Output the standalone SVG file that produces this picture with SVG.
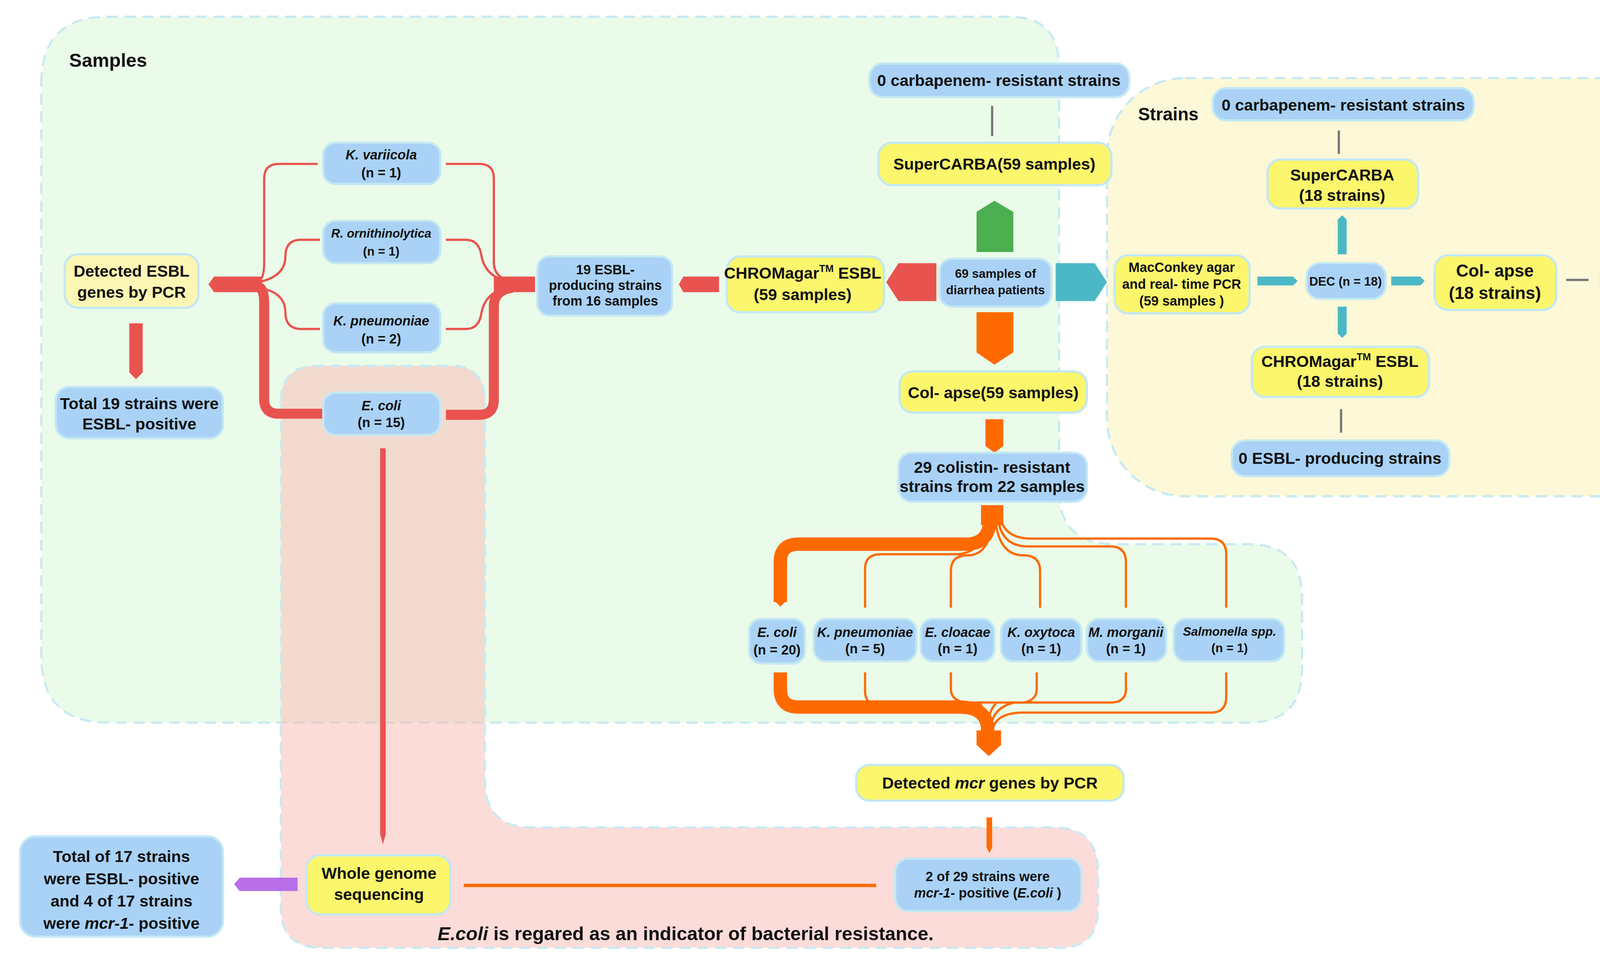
<svg xmlns="http://www.w3.org/2000/svg" width="4452" height="2444" viewBox="0 0 4452 2444">
<style>
text{font-family:"Liberation Sans Narrow","Liberation Sans",Arial,sans-serif;font-weight:bold;fill:#111;text-anchor:middle}
.b{fill:#a9d2f6;stroke:#c3e8f3;stroke-width:2}
.y{fill:#fbf66c;stroke:#c3e8f3;stroke-width:2}
.ly{fill:#fcf6b4;stroke:#c3e8f3;stroke-width:2}
.t14{font-size:14.5px}.t12{font-size:12px}.t11{font-size:11px}
.i{font-style:italic}
.red{fill:none;stroke:#e9534f}
.or{fill:none;stroke:#ff6a00}
.gr{stroke:#777;stroke-width:2}
.reg{stroke:#c8eaf2;stroke-width:2;stroke-dasharray:10 6}
</style>
<rect width="4452" height="2444" fill="#fff"/>
<g transform="scale(2.8538)">
<g id="regions">
<path class="reg" fill="#eafbe9" d="M37 75Q37 15 97 15L905 15Q950 15 950 60L950 440Q950 488 1000 488L1120 488Q1168 488 1168 536L1168 600Q1168 648 1120 648L97 648Q37 648 37 588Z"/>
<rect class="reg" fill="#fcf8d8" x="993" y="70" width="555" height="375" rx="70"/>
<path class="reg" fill="#f9b9b3" fill-opacity="0.5" d="M252 360Q252 328 285 328L405 328Q435 328 435 360L435 700Q435 742 477 742L945 742Q985 742 985 782L985 815Q985 850 950 850L290 850Q252 850 252 815Z"/>
<text x="97" y="60" style="font-size:17px">Samples</text>
<text x="1048" y="108" style="font-size:16px">Strains</text>
<text x="615" y="843" style="font-size:17px"><tspan class="i">E.coli</tspan> is regared as an indicator of bacterial resistance.</text>
</g>
<g id="connectors">
<line class="gr" x1="890" y1="95" x2="890" y2="122"/>
<line class="gr" x1="1201" y1="117" x2="1201" y2="138"/>
<line class="gr" x1="1203" y1="367" x2="1203" y2="388"/>
<line class="gr" x1="1405" y1="251" x2="1425" y2="251"/>
<polygon fill="#4caf50" points="876,190 892,180 909,190 909,226 876,226"/>
<polygon fill="#e9534f" points="795,253 806,236 840,236 840,270 806,270"/>
<polygon fill="#4cb8c6" points="947,236 982,236 993,253 982,270 947,270"/>
<polygon fill="#ff6a00" points="876,280 909,280 909,316 892,327 876,316"/>
<polygon fill="#ff6a00" points="884,376 900,376 900,400 892,406 884,400"/>
<polygon fill="#e9534f" points="609,255 613,248 645,248 645,262 613,262"/>
<polygon fill="#4cb8c6" points="1128,248 1160,248 1164,252 1160,256 1128,256"/>
<polygon fill="#4cb8c6" points="1248,248 1274,248 1278,252 1274,256 1248,256"/>
<polygon fill="#4cb8c6" points="1200,197 1204,193 1208,197 1208,228 1200,228"/>
<polygon fill="#4cb8c6" points="1200,275 1208,275 1208,299 1204,303 1200,299"/>
<polygon fill="#e9534f" points="116,290 128,290 128,334 122,340 116,334"/>
<polygon fill="#e9534f" points="341,402 346,402 346,748 343.5,757 341,748"/>
<polygon fill="#b86fe8" points="210,793 215,787 267,787 267,799 215,799"/>
<line x1="416" y1="794" x2="786" y2="794" stroke="#ff6a00" stroke-width="3"/>
<polygon fill="#ff6a00" points="885,733 890,733 890,760 887.5,765 885,760"/>
<!-- red tree -->
<polygon fill="#e9534f" points="187,255 192,248 235,248 235,262 192,262"/>
<path class="red" stroke-width="9" d="M230 257Q237 257 237 272L237 358Q237 371 250 371L290 371"/>
<path class="red" stroke-width="2" d="M232 252Q237 250 237 235L237 160Q237 147 250 147L285 147"/>
<path class="red" stroke-width="2" d="M232 253Q256 248 256 230Q256 215 270 215L287 215"/>
<path class="red" stroke-width="2" d="M232 258Q256 262 256 280Q256 295 270 295L287 295"/>
<path class="red" stroke-width="2" d="M400 147L430 147Q443 147 443 160L443 235Q443 250 460 252"/>
<path class="red" stroke-width="2" d="M400 215L418 215Q430 215 432 230Q436 250 460 253"/>
<path class="red" stroke-width="2" d="M400 295L418 295Q430 295 432 280Q436 260 460 257"/>
<path class="red" stroke-width="9" d="M400 372L430 372Q443 372 443 358L443 275Q443 260 460 258"/>
<rect fill="#e9534f" x="443" y="248" width="37" height="14"/>
<!-- orange tree top -->
<rect fill="#ff6a00" x="880" y="453" width="20" height="18"/>
<path class="or" stroke-width="12" d="M888 465Q888 488 866 488L716 488Q700 488 700 504L700 540"/>
<polygon fill="#ff6a00" points="694,538 706,538 700,544"/>
<path class="or" stroke-width="2" d="M886 466Q884 494 860 497L790 497Q776 497 776 510L776 545"/>
<path class="or" stroke-width="2" d="M890 466Q888 498 868 498Q853 498 853 512L853 545"/>
<path class="or" stroke-width="2" d="M893 466Q896 498 918 498Q933 498 933 512L933 545"/>
<path class="or" stroke-width="2" d="M895 464Q898 490 922 490L996 490Q1010 490 1010 504L1010 545"/>
<path class="or" stroke-width="2" d="M897 462Q900 483 925 483L1086 483Q1100 483 1100 497L1100 545"/>
<!-- orange tree bottom -->
<path class="or" stroke-width="12" d="M700 603L700 618Q700 634 716 634L860 634Q886 634 886 655L886 665"/>
<path class="or" stroke-width="2" d="M776 603L776 620Q776 634 795 634L865 634Q884 636 884 650"/>
<path class="or" stroke-width="2" d="M853 603L853 618Q853 628 866 630L918 630Q930 628 930 618L930 603"/>
<path class="or" stroke-width="2" d="M878 630Q884 636 886 648Q888 636 894 630"/>
<path class="or" stroke-width="2" d="M1010 603L1010 618Q1010 630 996 630L910 630Q892 634 889 650"/>
<path class="or" stroke-width="2" d="M1100 603L1100 625Q1100 639 1086 639L915 639Q895 640 891 652"/>
<polygon fill="#ff6a00" points="876,655 898,655 898,668 887,678 876,668"/>
</g>
<g id="n_samples_lbl"/>
<g id="n1"><rect class="ly" x="58" y="228" width="120" height="48" rx="12"/><text class="t14" x="118" y="248">Detected ESBL</text><text class="t14" x="118" y="267">genes by PCR</text></g>
<g id="n2"><rect class="b" x="50" y="347" width="150" height="46" rx="12"/><text class="t14" x="125" y="367">Total 19 strains were</text><text class="t14" x="125" y="385">ESBL- positive</text></g>
<g id="n3"><rect class="b" x="290" y="128" width="105" height="37" rx="11"/><text class="t12 i" x="342" y="143">K. variicola</text><text class="t12" x="342" y="159">(n = 1)</text></g>
<g id="n4"><rect class="b" x="290" y="198" width="105" height="38" rx="11"/><text class="t11 i" x="342" y="213">R. ornithinolytica</text><text class="t11" x="342" y="229">(n = 1)</text></g>
<g id="n5"><rect class="b" x="290" y="272" width="105" height="44" rx="11"/><text class="t12 i" x="342" y="292">K. pneumoniae</text><text class="t12" x="342" y="308">(n = 2)</text></g>
<g id="n6"><rect class="b" x="290" y="352" width="105" height="38" rx="11"/><text class="t12 i" x="342" y="368">E. coli</text><text class="t12" x="342" y="383">(n = 15)</text></g>
<g id="n7"><rect class="b" x="482" y="230" width="121" height="53" rx="11"/><text class="t12" x="543" y="246">19 ESBL-</text><text class="t12" x="543" y="260">producing strains</text><text class="t12" x="543" y="274">from 16 samples</text></g>
<g id="n8"><rect class="y" x="652" y="230" width="141" height="50" rx="12"/><text class="t14" x="720" y="250">CHROMagar<tspan font-size="9" dy="-6">TM</tspan><tspan dy="6"> ESBL</tspan></text><text class="t14" x="720" y="269">(59 samples)</text></g>
<g id="n9"><rect class="b" x="843" y="232" width="100" height="43" rx="11"/><text class="t11" x="893" y="249">69 samples of</text><text class="t11" x="893" y="264">diarrhea patients</text></g>
<g id="n10"><rect class="b" x="780" y="57" width="233" height="30" rx="12"/><text class="t14" x="896" y="77">0 carbapenem- resistant strains</text></g>
<g id="n11"><rect class="y" x="788" y="128" width="209" height="38" rx="12"/><text class="t14" x="892" y="152">SuperCARBA(59 samples)</text></g>
<g id="n12"><rect class="y" x="807" y="333" width="168" height="37" rx="12"/><text class="t14" x="891" y="357">Col- apse(59 samples)</text></g>
<g id="n13"><rect class="b" x="806" y="406" width="169" height="44" rx="12"/><text class="t14" x="890" y="424">29 colistin- resistant</text><text class="t14" x="890" y="441">strains from 22 samples</text></g>
<g id="n14"><rect class="b" x="672" y="555" width="50" height="40" rx="11"/><text class="t12 i" x="697" y="571">E. coli</text><text class="t12" x="697" y="587">(n = 20)</text></g>
<g id="n15"><rect class="b" x="730" y="555" width="92" height="38" rx="11"/><text class="t12 i" x="776" y="571">K. pneumoniae</text><text class="t12" x="776" y="586">(n = 5)</text></g>
<g id="n16"><rect class="b" x="826" y="555" width="66" height="38" rx="11"/><text class="t12 i" x="859" y="571">E. cloacae</text><text class="t12" x="859" y="586">(n = 1)</text></g>
<g id="n17"><rect class="b" x="898" y="555" width="72" height="38" rx="11"/><text class="t12 i" x="934" y="571">K. oxytoca</text><text class="t12" x="934" y="586">(n = 1)</text></g>
<g id="n18"><rect class="b" x="975" y="555" width="71" height="38" rx="11"/><text class="t12 i" x="1010" y="571">M. morganii</text><text class="t12" x="1010" y="586">(n = 1)</text></g>
<g id="n19"><rect class="b" x="1053" y="555" width="99" height="38" rx="11"/><text class="t11 i" x="1103" y="570">Salmonella spp.</text><text class="t11" x="1103" y="585">(n = 1)</text></g>
<g id="n20"><rect class="y" x="768" y="686" width="240" height="32" rx="12"/><text class="t14" x="888" y="707">Detected <tspan class="i">mcr</tspan> genes by PCR</text></g>
<g id="n21"><rect class="b" x="803" y="770" width="167" height="47" rx="12"/><text class="t12" x="886" y="790">2 of 29 strains were</text><text class="t12" x="886" y="805"><tspan class="i">mcr-1</tspan>- positive (<tspan class="i">E.coli</tspan> )</text></g>
<g id="n22"><rect class="y" x="275" y="767" width="129" height="53" rx="12"/><text class="t14" x="340" y="788">Whole genome</text><text class="t14" x="340" y="807">sequencing</text></g>
<g id="n23"><rect class="b" x="18" y="750" width="182" height="90" rx="14"/><text class="t14" x="109" y="773">Total of 17 strains</text><text class="t14" x="109" y="793">were ESBL- positive</text><text class="t14" x="109" y="813">and 4 of 17 strains</text><text class="t14" x="109" y="833">were <tspan class="i">mcr-1</tspan>- positive</text></g>
<g id="n24"><rect class="b" x="1088" y="79" width="234" height="29" rx="12"/><text class="t14" x="1205" y="99">0 carbapenem- resistant strains</text></g>
<g id="n25"><rect class="y" x="1137" y="143" width="135" height="44" rx="12"/><text class="t14" x="1204" y="162">SuperCARBA</text><text class="t14" x="1204" y="180">(18 strains)</text></g>
<g id="n26"><rect class="y" x="1000" y="229" width="121" height="52" rx="12"/><text class="t12" x="1060" y="244">MacConkey agar</text><text class="t12" x="1060" y="259">and real- time PCR</text><text class="t12" x="1060" y="274">(59 samples )</text></g>
<g id="n27"><rect class="b" x="1172" y="236" width="71" height="32" rx="12"/><text class="t11" x="1207" y="256">DEC (n = 18)</text></g>
<g id="n28"><rect class="y" x="1287" y="229" width="109" height="49" rx="12"/><text class="t14" x="1341" y="248" style="font-size:15.5px">Col- apse</text><text class="t14" x="1341" y="268" style="font-size:15.5px">(18 strains)</text></g>
<g id="n29"><rect class="b" x="1436" y="233" width="106" height="37" rx="11"/><text class="t11" x="1489" y="248">0 colistin -</text><text class="t11" x="1489" y="262">resistant strains</text></g>
<g id="n30"><rect class="y" x="1123" y="311" width="159" height="45" rx="12"/><text class="t14" x="1202" y="329">CHROMagar<tspan font-size="9" dy="-6">TM</tspan><tspan dy="6"> ESBL</tspan></text><text class="t14" x="1202" y="347">(18 strains)</text></g>
<g id="n31"><rect class="b" x="1105" y="395" width="195" height="32" rx="12"/><text class="t14" x="1202" y="416">0 ESBL- producing strains</text></g>
</g>
</svg>
